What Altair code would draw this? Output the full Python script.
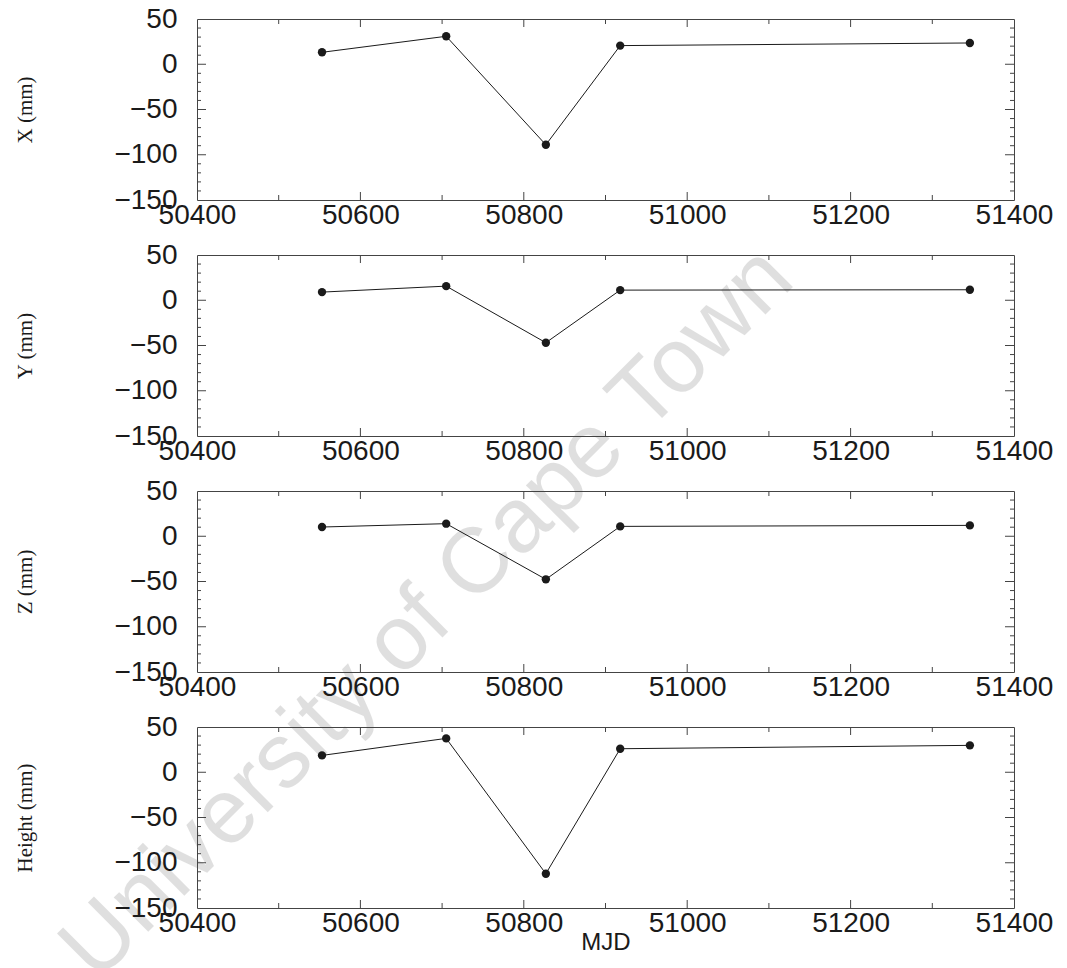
import altair as alt
import pandas as pd

# Epochs (MJD) of the five solutions and the coordinate offsets in mm
MJD = [50553, 50705, 50827, 50918, 51346]
X_MM = [13.2, 30.9, -89.0, 20.6, 23.5]
Y_MM = [9.0, 15.6, -46.9, 11.2, 11.6]
Z_MM = [10.2, 13.9, -47.6, 10.9, 12.0]
H_MM = [18.6, 37.4, -112.1, 26.0, 29.7]

PANEL_TITLES = ["X (mm)", "Y (mm)", "Z (mm)", "Height (mm)"]
PANEL_VALUES = [X_MM, Y_MM, Z_MM, H_MM]

X_DOMAIN = [50400, 51400]
Y_DOMAIN = [-150, 50]
X_LABELS = [50400, 50600, 50800, 51000, 51200, 51400]
Y_LABELS = [-150, -100, -50, 0, 50]
X_MAJOR_TICKS = [50600, 50800, 51000, 51200]
X_MINOR_TICKS = [50500, 50700, 50900, 51100, 51300]
Y_MAJOR_TICKS = [-100, -50, 0]
Y_MINOR_TICKS = [v for v in range(-140, 50, 10) if v % 50 != 0]

WATERMARK = "University of Cape Town"

W, H = 817, 181
INK = "#1a1a1a"
FRAME = "#444444"
SANS = "Liberation Sans"
SERIF = "Liberation Serif"

xscale = alt.Scale(domain=X_DOMAIN, nice=False, zero=False)
yscale = alt.Scale(domain=Y_DOMAIN, nice=False, zero=False)


def x_ticks(values, length):
    df = pd.DataFrame({"t": values})
    base = alt.Chart(df).mark_rule(color=FRAME, strokeWidth=1)
    enc_x = alt.X("t:Q", scale=xscale)
    bottom = base.encode(x=enc_x, y=alt.value(H), y2=alt.value(H - length))
    top = base.encode(x=enc_x, y=alt.value(0), y2=alt.value(length))
    return [bottom, top]


def y_ticks(values, length):
    df = pd.DataFrame({"t": values})
    base = alt.Chart(df).mark_rule(color=FRAME, strokeWidth=1)
    enc_y = alt.Y("t:Q", scale=yscale)
    left = base.encode(y=enc_y, x=alt.value(0), x2=alt.value(length))
    right = base.encode(y=enc_y, x=alt.value(W), x2=alt.value(W - length))
    return [left, right]


def panel(values, title, last, with_watermark):
    df = pd.DataFrame({"mjd": MJD, "val": values})
    x_axis = alt.Axis(
        values=X_LABELS, format="d", ticks=False, tickSize=0, domain=False,
        grid=False, labelFont=SANS, labelFontSize=28, labelColor=INK,
        labelPadding=15, labelBaseline="middle", labelFlush=False,
        labelOverlap=False,
        title="MJD" if last else None,
        titleFont=SANS, titleFontSize=24, titleFontWeight="normal",
        titleColor=INK, titleX=W / 2, titleY=34, titleAlign="center",
        titleBaseline="middle",
    )
    y_axis = alt.Axis(
        values=Y_LABELS, format="d", ticks=False, tickSize=0, domain=False,
        grid=False, labelFont=SANS, labelFontSize=28, labelColor=INK,
        labelPadding=20, labelOverlap=False, labelFlush=False,
        title=title, titleFont=SERIF, titleFontSize=21,
        titleFontWeight="normal", titleColor=INK, titleX=-172, titleY=H / 2,
        titleAngle=270, titleAlign="center", titleBaseline="middle",
    )
    base = alt.Chart(df).encode(
        x=alt.X("mjd:Q", scale=xscale, axis=x_axis),
        y=alt.Y("val:Q", scale=yscale, axis=y_axis),
    )
    layers = []
    if with_watermark:
        wm = alt.Chart(pd.DataFrame({"label": [WATERMARK]})).mark_text(
            font=SANS, fontSize=92, angle=315, align="center",
            baseline="alphabetic", color="#000000", opacity=0.12,
        ).encode(text="label:N", x=alt.value(250), y=alt.value(614))
        layers.append(wm)
    layers += x_ticks(X_MAJOR_TICKS, 8) + x_ticks(X_MINOR_TICKS, 5)
    layers += y_ticks(Y_MAJOR_TICKS, 9) + y_ticks(Y_MINOR_TICKS, 4)
    layers.append(base.mark_line(color=INK, strokeWidth=1))
    layers.append(base.mark_point(filled=True, size=70, color=INK, opacity=1))
    return alt.layer(*layers).properties(width=W, height=H)


panels = [
    panel(v, t, i == len(PANEL_VALUES) - 1, i == 0)
    for i, (v, t) in enumerate(zip(PANEL_VALUES, PANEL_TITLES))
]

chart = alt.vconcat(*panels, spacing=55, bounds="flush").properties(
    padding={"left": 13, "top": 4, "right": 5, "bottom": 5},
    background="white",
).configure_view(stroke=FRAME, strokeWidth=1)

chart.save("out.html", embed_options={"renderer": "svg", "actions": False})
